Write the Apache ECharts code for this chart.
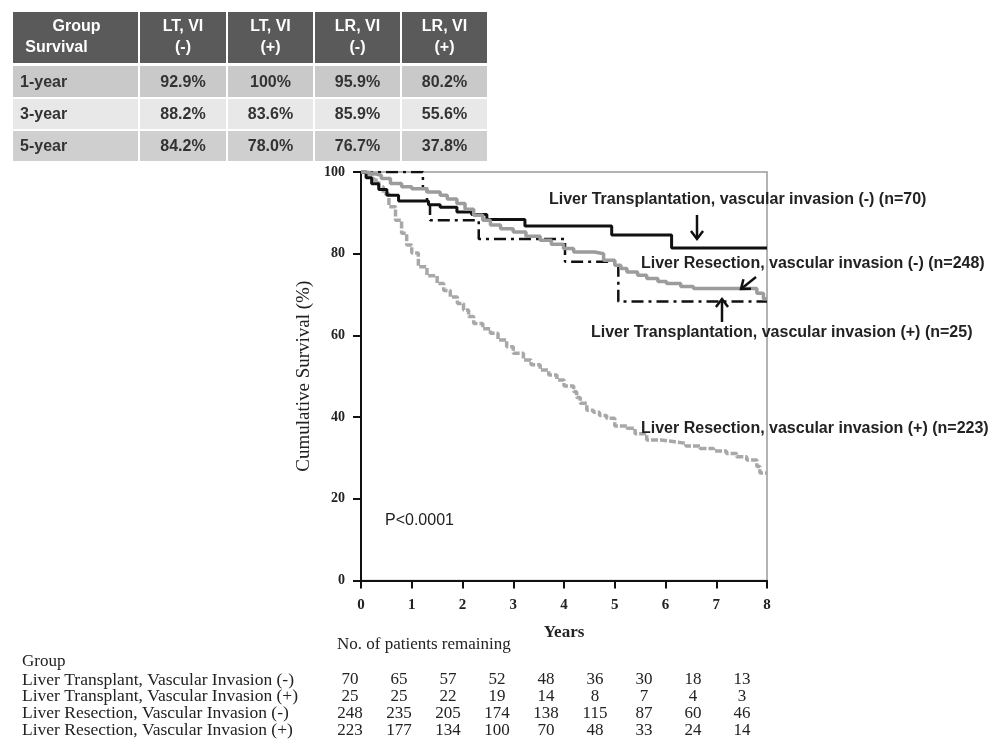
<!DOCTYPE html>
<html><head><meta charset="utf-8">
<script src="https://cdn.jsdelivr.net/npm/echarts@6/dist/echarts.min.js"></script>
<style>html,body{margin:0;padding:0;background:#fff}#c{width:1000px;height:751px}</style>
</head><body><div id="c"></div>
<script>
// ---------- data ----------
const tableHeaders = [["Group", "Survival"], ["LT, VI", "(-)"], ["LT, VI", "(+)"], ["LR, VI", "(-)"], ["LR, VI", "(+)"]];
const tableRowLabels = ["1-year", "3-year", "5-year"];
const tableValues = [
  ["92.9%", "100%", "95.9%", "80.2%"],
  ["88.2%", "83.6%", "85.9%", "55.6%"],
  ["84.2%", "78.0%", "76.7%", "37.8%"]
];
const riskGroups = [
  "Liver Transplant, Vascular Invasion (-)",
  "Liver Transplant, Vascular Invasion (+)",
  "Liver Resection, Vascular Invasion (-)",
  "Liver Resection, Vascular Invasion (+)"
];
const riskCounts = [
  [70, 65, 57, 52, 48, 36, 30, 18, 13],
  [25, 25, 22, 19, 14, 8, 7, 4, 3],
  [248, 235, 205, 174, 138, 115, 87, 60, 46],
  [223, 177, 134, 100, 70, 48, 33, 24, 14]
];
const seriesNames = [
  "Liver Transplantation, vascular invasion (-) (n=70)",
  "Liver Resection, vascular invasion (-) (n=248)",
  "Liver Transplantation, vascular invasion (+) (n=25)",
  "Liver Resection, vascular invasion (+) (n=223)"
];
const ltNeg = [[0,100],[0.10,98.6],[0.21,97.1],[0.35,95.7],[0.51,94.3],[0.74,92.9],[1.33,92.0],[1.56,91.4],[1.89,90.2],[2.18,89.6],[2.48,88.4],[3.23,86.8],[4.94,84.6],[6.12,81.4],[8,81.4]];
const ltPos = [[0,100],[1.22,96],[1.30,92],[1.36,88.2],[2.32,83.6],[4.02,78.0],[5.07,68.3],[8,68.3]];
const lrNeg = [[0,100],[0.1,99.6],[0.25,99.2],[0.4,98.4],[0.58,97.2],[0.8,96.4],[1.0,95.9],[1.3,95.1],[1.56,94.3],[1.7,93.4],[1.89,92.3],[2.05,90.9],[2.22,89.4],[2.4,88.2],[2.55,87.0],[2.75,86.1],[3.0,85.3],[3.25,84.3],[3.53,83.3],[3.75,82.3],[3.99,81.3],[4.19,80.4],[4.6,80.0],[4.78,78.4],[5.0,77.2],[5.12,76.4],[5.24,75.5],[5.45,74.7],[5.63,73.9],[5.85,73.2],[6.02,72.7],[6.3,72.0],[6.55,71.5],[7.73,71.5],[7.8,70.3],[7.93,69.0],[8,69.0]];
const lrPos = [[0,100],[0.1,99.3],[0.25,98],[0.35,96.4],[0.44,94.7],[0.55,91.5],[0.68,88.2],[0.8,85.0],[0.9,82.1],[1.0,80.2],[1.13,76.8],[1.3,74.6],[1.5,72.7],[1.63,71.0],[1.76,69.4],[1.9,67.8],[2.02,66.2],[2.12,64.6],[2.22,62.9],[2.4,61.6],[2.55,60.5],[2.7,58.9],[2.87,57.2],[3.0,55.6],[3.2,54.0],[3.35,52.8],[3.53,51.5],[3.7,50.3],[3.86,49.1],[4.0,47.6],[4.19,46.2],[4.25,44.8],[4.32,43.4],[4.45,41.7],[4.58,41.2],[4.7,40.4],[4.84,39.7],[5.0,37.8],[5.24,37.3],[5.4,35.9],[5.63,34.4],[5.9,34.0],[6.15,33.6],[6.4,32.9],[6.68,32.3],[6.95,31.7],[7.2,31.1],[7.4,30.3],[7.6,29.5],[7.8,27.9],[7.86,26.3],[8,26.3]];
const pValue = "P<0.0001";

// ---------- layout ----------
const SANS = "'Liberation Sans', Arial, sans-serif";
const SERIF = "'Liberation Serif', 'Times New Roman', serif";
const colEdges = [13, 139, 227, 314, 401, 488];
const rowEdges = [[66, 97], [99, 129], [131, 161]];
const rowFills = ["#c9c9c9", "#e8e8e8", "#cfcfcf"];
const graphics = [];

// top table
for (let c = 0; c < 5; c++) {
  const x0 = colEdges[c] + (c ? 1 : 0), x1 = colEdges[c + 1] - 1;
  graphics.push({ type: 'rect', shape: { x: x0, y: 12, width: x1 - x0, height: 51 }, style: { fill: '#5a5a5a' } });
  const cx = (x0 + x1) / 2;
  graphics.push({ type: 'text', x: c === 0 ? cx + 1 : cx, y: 27, style: { text: tableHeaders[c][0], font: 'bold 16px ' + SANS, fill: '#fff', align: 'center', verticalAlign: 'middle' } });
  graphics.push({ type: 'text', x: c === 0 ? cx - 19 : cx, y: 48, style: { text: tableHeaders[c][1], font: 'bold 16px ' + SANS, fill: '#fff', align: 'center', verticalAlign: 'middle' } });
  for (let r = 0; r < 3; r++) {
    const [y0, y1] = rowEdges[r];
    graphics.push({ type: 'rect', shape: { x: x0, y: y0, width: x1 - x0, height: y1 - y0 }, style: { fill: rowFills[r] } });
    const txt = c === 0 ? tableRowLabels[r] : tableValues[r][c - 1];
    graphics.push({ type: 'text', x: c === 0 ? x0 + 7 : cx, y: (y0 + y1) / 2 + 1, style: { text: txt, font: 'bold 16px ' + SANS, fill: '#333', align: c === 0 ? 'left' : 'center', verticalAlign: 'middle' } });
  }
}

// annotations
const annot = [
  { t: seriesNames[0], x: 549, y: 200 },
  { t: seriesNames[1], x: 641, y: 264 },
  { t: seriesNames[2], x: 591, y: 333 },
  { t: seriesNames[3], x: 641, y: 429 }
];
annot.forEach(a => graphics.push({ type: 'text', x: a.x, y: a.y, z: 10, style: { text: a.t, font: 'bold 16px ' + SANS, fill: '#222', align: 'left', verticalAlign: 'middle' } }));
graphics.push({ type: 'text', x: 385, y: 521, style: { text: pValue, font: '16px ' + SANS, fill: '#222', align: 'left', verticalAlign: 'middle' } });

function arrow(x1, y1, x2, y2) {
  const ang = Math.atan2(y2 - y1, x2 - x1), L = 10, sp = 0.65;
  const a1 = [x2 - L * Math.cos(ang - sp), y2 - L * Math.sin(ang - sp)];
  const a2 = [x2 - L * Math.cos(ang + sp), y2 - L * Math.sin(ang + sp)];
  graphics.push({ type: 'polyline', z: 10, shape: { points: [[x1, y1], [x2, y2]] }, style: { stroke: '#111', lineWidth: 2.5 } });
  graphics.push({ type: 'polyline', z: 10, shape: { points: [a1, [x2, y2], a2] }, style: { stroke: '#111', lineWidth: 2.5, fill: null } });
}
arrow(697, 215, 697, 239);
arrow(756, 277, 741, 289);
arrow(722, 322, 722, 299);

// risk table
graphics.push({ type: 'text', x: 337, y: 645, style: { text: 'No. of patients remaining', font: '17px ' + SERIF, fill: '#222', align: 'left', verticalAlign: 'middle' } });
graphics.push({ type: 'text', x: 22, y: 662, style: { text: 'Group', font: '17px ' + SERIF, fill: '#222', align: 'left', verticalAlign: 'middle' } });
riskGroups.forEach((g, r) => {
  const y = 680 + r * 16.8;
  graphics.push({ type: 'text', x: 22, y: y, style: { text: g, font: '17.5px ' + SERIF, fill: '#222', align: 'left', verticalAlign: 'middle' } });
  riskCounts[r].forEach((n, i) => {
    graphics.push({ type: 'text', x: 350 + i * 49, y: y, style: { text: String(n), font: '17px ' + SERIF, fill: '#222', align: 'center', verticalAlign: 'middle' } });
  });
});

// ---------- chart ----------
const chart = echarts.init(document.getElementById('c'), null, { renderer: 'canvas' });
chart.setOption({
  animation: false,
  backgroundColor: '#fff',
  grid: { left: 361, top: 172, width: 406, height: 408.5, show: true, borderColor: '#9a9a9a', borderWidth: 1.5, backgroundColor: 'transparent' },
  xAxis: {
    type: 'value', min: 0, max: 8, interval: 1,
    name: 'Years', nameLocation: 'middle', nameGap: 44,
    nameTextStyle: { fontFamily: SERIF, fontWeight: 'bold', fontSize: 17, color: '#222' },
    axisLine: { show: true, lineStyle: { color: '#111', width: 2 } },
    axisTick: { show: true, length: 8, lineStyle: { color: '#111', width: 2 } },
    axisLabel: { margin: 17, fontFamily: SERIF, fontWeight: 'bold', fontSize: 15, color: '#222' },
    splitLine: { show: false }
  },
  yAxis: {
    type: 'value', min: 0, max: 100, interval: 20,
    name: 'Cumulative Survival (%)', nameLocation: 'middle', nameGap: 47, nameRotate: 90,
    nameTextStyle: { fontFamily: SERIF, fontSize: 19, color: '#222' },
    axisLine: { show: true, lineStyle: { color: '#111', width: 2 } },
    axisTick: { show: true, length: 8, lineStyle: { color: '#111', width: 2 } },
    axisLabel: { margin: 16, fontFamily: SERIF, fontWeight: 'bold', fontSize: 14, color: '#222' },
    splitLine: { show: false }
  },
  series: [
    { name: seriesNames[3], type: 'line', step: 'end', data: lrPos, symbol: 'none', lineStyle: { color: '#a8a8a8', width: 3.5, type: [7, 2] }, z: 2 },
    { name: seriesNames[0], type: 'line', step: 'end', data: ltNeg, symbol: 'none', lineStyle: { color: '#111', width: 3 }, z: 3 },
    { name: seriesNames[2], type: 'line', step: 'end', data: ltPos, symbol: 'none', lineStyle: { color: '#111', width: 2.5, type: [12, 5, 3, 5] }, z: 4 },
    { name: seriesNames[1], type: 'line', step: 'end', data: lrNeg, symbol: 'none', lineStyle: { color: '#9c9c9c', width: 3.5 }, z: 5 }
  ],
  graphic: graphics
});
</script>
</body></html>
